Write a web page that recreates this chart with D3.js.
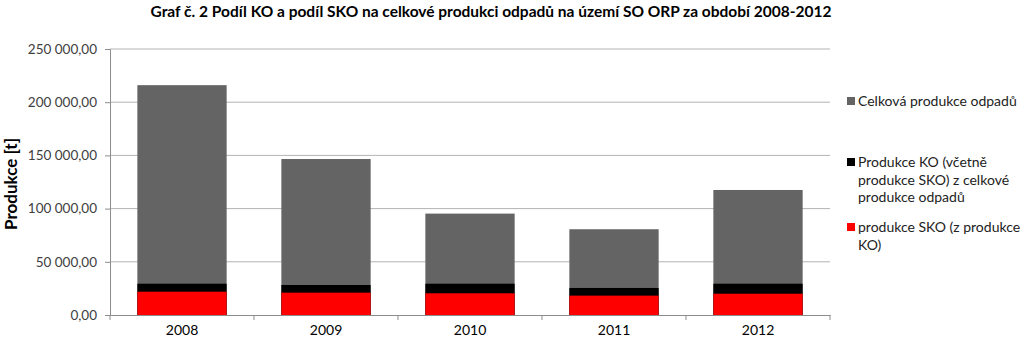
<!DOCTYPE html>
<html><head><meta charset="utf-8">
<script src="https://cdn.jsdelivr.net/npm/d3@7"></script>
<style>body{margin:0;background:#fff}svg{display:block}text{font-family:Lato,"Open Sans",sans-serif}</style>
</head><body><svg id="c" width="1024" height="340"></svg>
<script>
const years = ["2008","2009","2010","2011","2012"];
const total = [216000, 146600, 95300, 80600, 117500];
const ko = [29400, 28200, 29400, 25400, 29400];
const sko = [21900, 21000, 20400, 18200, 20000];
const yTicks = [0, 50000, 100000, 150000, 200000, 250000];
const seriesNames = ["Celková produkce odpadů", "Produkce KO (včetně produkce SKO) z celkové produkce odpadů", "produkce SKO (z produkce KO)"];
const colors = ["#646464", "#000000", "#ff0000"];
const legendLines = [["Celková produkce odpadů"], ["Produkce KO (včetně", "produkce SKO) z celkové", "produkce odpadů"], ["produkce SKO (z produkce", "KO)"]];

const svg = d3.select("#c");
const x = d3.scaleBand().domain(years).range([110, 830]).paddingInner(0.38).paddingOuter(0.19);
const y = d3.scaleLinear().domain([0, 250000]).range([315, 49]);
const fmt = v => d3.format(",.2f")(v).replace(/,/g, " ").replace(".", ",");

svg.append("text").attr("x", 491).attr("y", 17).attr("text-anchor", "middle")
  .attr("font-weight", "bold").attr("font-size", 15.5).attr("fill", "#000")
  .text("Graf č. 2 Podíl KO a podíl SKO na celkové produkci odpadů na území SO ORP za období 2008-2012");

// gridlines
svg.append("g").selectAll("line").data(yTicks.slice(1)).join("line")
  .attr("x1", 110).attr("x2", 830).attr("y1", d => y(d)).attr("y2", d => y(d))
  .attr("stroke", "#b3b3b3").attr("stroke-width", 1);

// y axis
const ya = svg.append("g").attr("transform", "translate(110,0)")
  .call(d3.axisLeft(y).tickValues(yTicks).tickFormat(fmt).tickSize(5).tickPadding(8));
ya.select(".domain").attr("stroke", "#8c8c8c");
ya.selectAll(".tick line").attr("stroke", "#8c8c8c");
ya.selectAll("text").attr("font-size", 13.5).attr("fill", "#404040").attr("font-family", "Lato");

// bars
const series = [total, ko, sko];
series.forEach((vals, i) => {
  svg.append("g").selectAll("rect").data(years).join("rect")
    .attr("x", d => x(d)).attr("width", x.bandwidth())
    .attr("y", (d, j) => y(vals[j])).attr("height", (d, j) => y(0) - y(vals[j]))
    .attr("fill", colors[i]);
});

// x axis
const xa = svg.append("g").attr("transform", "translate(0,315)")
  .call(d3.axisBottom(x).tickSize(0).tickPadding(10));
xa.select(".domain").attr("stroke", "#8c8c8c");
xa.selectAll("text").attr("font-size", 14).attr("fill", "#000").attr("font-family", "Lato");
svg.append("g").selectAll("line").data(d3.range(years.length + 1)).join("line")
  .attr("x1", i => 110 + i * x.step()).attr("x2", i => 110 + i * x.step())
  .attr("y1", 315).attr("y2", 320).attr("stroke", "#8c8c8c");

// y title
svg.append("text").attr("transform", "translate(17,184) rotate(-90)").attr("text-anchor", "middle")
  .attr("font-weight", "bold").attr("font-size", 17).attr("fill", "#000").text("Produkce [t]");

// legend
const legY = [101, 162, 227];
legendLines.forEach((lines, i) => {
  svg.append("rect").attr("x", 847).attr("y", legY[i] - 4).attr("width", 8).attr("height", 8).attr("fill", colors[i]);
  const t = svg.append("text").attr("x", 858).attr("y", legY[i] + 5).attr("font-size", 14).attr("fill", "#222");
  lines.forEach((l, k) => t.append("tspan").attr("x", 858).attr("dy", k === 0 ? 0 : 17.5).text(l));
});
</script></body></html>
